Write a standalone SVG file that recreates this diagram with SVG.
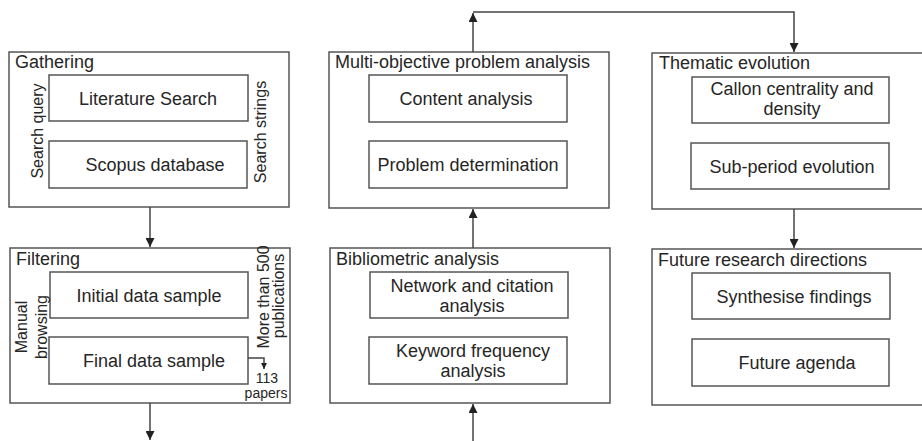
<svg xmlns="http://www.w3.org/2000/svg" width="922" height="441" viewBox="0 0 922 441">
  <defs>
    <marker id="arrow" viewBox="0 0 10 10" refX="10" refY="5" markerWidth="9" markerHeight="9" markerUnits="userSpaceOnUse" orient="auto">
      <path d="M0,0 L10,5 L0,10 z" fill="#222"/>
    </marker>
    <marker id="arrow-sm" viewBox="0 0 10 10" refX="10" refY="5" markerWidth="6" markerHeight="6" markerUnits="userSpaceOnUse" orient="auto">
      <path d="M0,0 L10,5 L0,10 z" fill="#222"/>
    </marker>
  </defs>
  <style>
    .outer { fill: none; stroke: #555; stroke-width: 1.5; }
    .inner { fill: #fff; stroke: #555; stroke-width: 1.5; }
    text { font-family: "Liberation Sans", Arial, sans-serif; fill: #262626; }
    .title { font-size: 18px; }
    .label { font-size: 18px; text-anchor: middle; }
    .side { font-size: 16px; text-anchor: middle; }
    .note { font-size: 14px; text-anchor: middle; }
    .conn { fill: none; stroke: #444; stroke-width: 1.5; }
  </style>
  <rect width="922" height="441" fill="#fff"/>

  <!-- Column 1 -->
  <g id="gathering">
    <rect class="outer" x="9" y="52" width="280" height="155"/>
    <text class="title" x="15" y="68">Gathering</text>
    <rect class="inner" x="49" y="75" width="199" height="46"/>
    <text class="label" x="148" y="105">Literature Search</text>
    <rect class="inner" x="49" y="141" width="198" height="47"/>
    <text class="label" x="155" y="171">Scopus database</text>
    <text class="side" transform="translate(43,131) rotate(-90)">Search query</text>
    <text class="side" transform="translate(266,132) rotate(-90)">Search strings</text>
  </g>

  <g id="filtering">
    <rect class="outer" x="10" y="248" width="280" height="155"/>
    <text class="title" x="16" y="265">Filtering</text>
    <rect class="inner" x="50" y="272" width="198" height="46"/>
    <text class="label" x="149" y="302">Initial data sample</text>
    <rect class="inner" x="49" y="337" width="199" height="47"/>
    <text class="label" x="154" y="367">Final data sample</text>
    <text class="side" transform="translate(27,327) rotate(-90)">Manual</text>
    <text class="side" transform="translate(47,327) rotate(-90)">browsing</text>
    <text class="side" transform="translate(269,297) rotate(-90)">More than 500</text>
    <text class="side" transform="translate(284,296) rotate(-90)">publications</text>
    <text class="note" x="267" y="383">113</text>
    <text class="note" x="266" y="398">papers</text>
  </g>

  <!-- Column 2 -->
  <g id="multi-objective">
    <rect class="outer" x="329" y="52" width="280" height="156"/>
    <text class="title" x="335" y="68">Multi-objective problem analysis</text>
    <rect class="inner" x="369" y="75" width="198" height="47"/>
    <text class="label" x="466" y="105">Content analysis</text>
    <rect class="inner" x="369" y="141" width="198" height="47"/>
    <text class="label" x="468" y="171">Problem determination</text>
  </g>

  <g id="bibliometric">
    <rect class="outer" x="330" y="248" width="280" height="155"/>
    <text class="title" x="336" y="265">Bibliometric analysis</text>
    <rect class="inner" x="370" y="272" width="198" height="46"/>
    <text class="label" x="472" y="292">Network and citation</text>
    <text class="label" x="472" y="312">analysis</text>
    <rect class="inner" x="369" y="337" width="198" height="47"/>
    <text class="label" x="473" y="357">Keyword frequency</text>
    <text class="label" x="473" y="377">analysis</text>
  </g>

  <!-- Column 3 -->
  <g id="thematic">
    <rect class="outer" x="652" y="53" width="275" height="156"/>
    <text class="title" x="659" y="69">Thematic evolution</text>
    <rect class="inner" x="692" y="77" width="197" height="46"/>
    <text class="label" x="792" y="95">Callon centrality and</text>
    <text class="label" x="792" y="115">density</text>
    <rect class="inner" x="691" y="143" width="198" height="46"/>
    <text class="label" x="792" y="173">Sub-period evolution</text>
  </g>

  <g id="future">
    <rect class="outer" x="652" y="249" width="275" height="156"/>
    <text class="title" x="658" y="266">Future research directions</text>
    <rect class="inner" x="692" y="273" width="198" height="46"/>
    <text class="label" x="794" y="303">Synthesise findings</text>
    <rect class="inner" x="692" y="339" width="197" height="47"/>
    <text class="label" x="797" y="369">Future agenda</text>
  </g>

  <!-- Connectors -->
  <g id="connectors">
    <line class="conn" x1="150" y1="207" x2="150" y2="247" marker-end="url(#arrow)"/>
    <line class="conn" x1="150" y1="403" x2="150" y2="440" marker-end="url(#arrow)"/>
    <polyline class="conn" points="248,358 264,358 264,369" marker-end="url(#arrow-sm)"/>
    <line class="conn" x1="473" y1="441" x2="473" y2="404" marker-end="url(#arrow)"/>
    <line class="conn" x1="473" y1="248" x2="473" y2="209" marker-end="url(#arrow)"/>
    <line class="conn" x1="473" y1="52" x2="473" y2="13" marker-end="url(#arrow)"/>
    <polyline class="conn" points="473,12 794,12 794,52" marker-end="url(#arrow)"/>
    <line class="conn" x1="794" y1="209" x2="794" y2="248" marker-end="url(#arrow)"/>
  </g>
</svg>
